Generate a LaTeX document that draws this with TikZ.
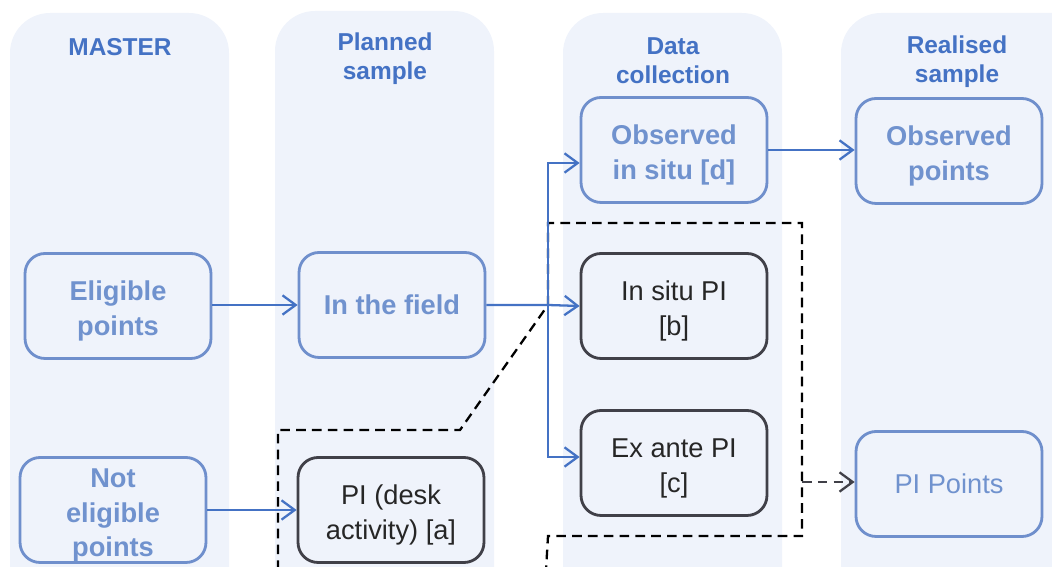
\documentclass[tikz,border=0pt]{standalone}
\usepackage{fontspec}
\setmainfont{Liberation Sans}
\usepackage{tikz}
\usetikzlibrary{arrows.meta,calc}

\definecolor{colbg}{RGB}{239,243,251}
\definecolor{hdrblue}{RGB}{68,114,196}
\definecolor{boxblue}{RGB}{111,143,204}
\definecolor{boxtext}{RGB}{112,146,206}
\definecolor{flowblue}{RGB}{68,114,196}
\definecolor{darkline}{RGB}{64,64,72}
\definecolor{darktext}{RGB}{38,38,38}

\newcommand{\boxfont}{\fontsize{15.5}{19.5}\selectfont}
\newcommand{\lowstrut}{\rule{0pt}{17pt}}

\tikzset{
  column/.style={fill=colbg, rounded corners=0.8cm},
  header/.style={text=hdrblue, font=\fontsize{13.9}{16.5}\selectfont\bfseries, align=center},
  basebox/.style={line width=1.6pt, rounded corners=0.4cm, fill=colbg, align=center,
    minimum width=3.72cm, minimum height=2.1cm, inner sep=0pt},
  bluebox/.style={basebox, draw=boxblue, text=boxtext, font=\boxfont\bfseries},
  darkbox/.style={basebox, draw=darkline, text=darktext, font=\boxfont},
  flow/.style={draw=flowblue, line width=1.3pt, -{Straight Barb[length=7.5pt,width=11pt]}},
  dashline/.style={black, line width=1.3pt, dash pattern=on 5.5pt off 3.5pt},
}

\begin{document}
\begin{tikzpicture}[x=0.02cm, y=-0.02cm]
  \useasboundingbox (0,0) rectangle (1052,567);
  \clip (0,0) rectangle (1052,567);

  % columns
  \fill[column] (10,620) -- (10,13) -- (229,13) -- (229,620);
  \fill[column] (275,620) -- (275,11) -- (494,11) -- (494,620);
  \fill[column] (563,620) -- (563,13) -- (782,13) -- (782,620);
  \fill[column] (841,620) -- (841,13) -- (1100,13) -- (1100,620);

  % headers
  \node[header] (hmaster) at (120,47) {MASTER};
  \node[header] (hplan) at (385,59) {Planned\\sample};
  \node[header] (hcoll) at (673,61) {Data\\collection};
  \node[header] (hreal) at (957,62) {Realised\\sample};

  % boxes
  \node[bluebox] (elig) at (118,306) {\lowstrut Eligible\\points};
  \node[bluebox] (notelig) at (113,510) {\lowstrut Not\\eligible\\points};
  \node[bluebox] (field) at (392,305) {In the field};
  \node[darkbox] (desk) at (391,510) {\lowstrut PI (desk\\activity) [a]};
  \node[bluebox] (obs) at (674,150) {\lowstrut Observed\\in situ [d]};
  \node[darkbox] (insitu) at (674,306) {\lowstrut In situ PI\\{}[b]};
  \node[darkbox] (exante) at (674,463) {\lowstrut Ex ante PI\\{}[c]};
  \node[bluebox] (obspts) at (949,151) {\lowstrut Observed\\points};
  \node[bluebox, font=\boxfont] (pipts) at (949,484) {PI Points};

  % split point
  \coordinate (split) at (548,305);
  \coordinate (tap) at (802,482);

  % dashed frame
  \draw[dashline] (278,570) -- (278,430) -- (460,430) -- (split) -- (548,223)
    -- (802,223) -- (802,536) -- (548,536) -- (546,570);
  \draw[dashline, -{Straight Barb[length=7.5pt,width=11pt]}, darkline] (tap) -- (tap -| pipts.west);

  % flows
  \draw[flow] (elig.east |- field.west) -- (field.west);
  \draw[flow] (notelig.east) -- (desk.west);
  \draw[flow] (field.east) -- (split) -- (insitu.west);
  \draw[flow] (split) |- ($(obs.west)+(0,13)$);
  \draw[flow] (split) |- ($(exante.west)+(0,-6)$);
  \draw[flow] (obs.east) -- (obs.east -| obspts.west);
\end{tikzpicture}
\end{document}
